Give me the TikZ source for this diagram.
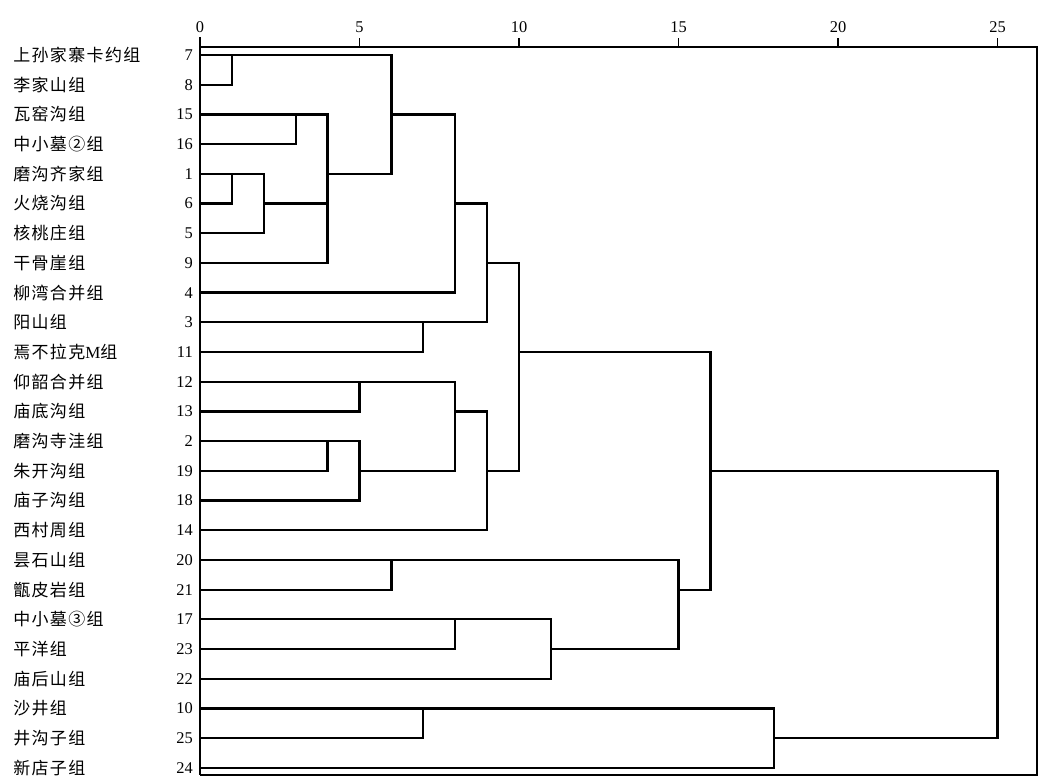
\documentclass[tikz,border=0pt]{standalone}
\usepackage{fontspec}
\setmainfont{Liberation Serif}
\newfontfamily\cjk[LetterSpace=8]{Noto Sans CJK SC}

\begin{document}
\begin{tikzpicture}[
dline/.style={line width=1.9pt, line cap=rect},
frame/.style={line width=1pt},
axis/.style={line width=2.2pt},
num/.style={anchor=east, inner sep=0pt, font=\fontsize{14}{14}\selectfont},
grp/.style={anchor=west, inner sep=0pt, font=\cjk\fontsize{14.5}{15}\selectfont},
ticklabel/.style={anchor=south, inner sep=0pt, yshift=1.4mm, font=\fontsize{14}{14}\selectfont}
]
\useasboundingbox (0,0) rectangle (31.77,-23.28);

\begin{scope}[shift={(6,-1.65)}, x=0.957cm, y=-0.891cm]

% scale on top
\foreach \i in {0,...,25}
  \coordinate (u\i) at (\i,-0.27);
\coordinate (ne) at (26.24,-0.27);
\coordinate (se) at (26.24,24.24);
\coordinate (sw) at (0,24.24);
\draw[frame] (u0) -- (ne) -- (se) -- (sw);
\draw[axis] ([yshift=0.3cm]u0) -- (sw);
\foreach \i in {0,5,...,25}
  \draw[frame] (u\i) -- ++(0,-0.3) node[ticklabel] (l\i) {\i};

% leaves: number / group / first merge
\foreach \n/\name/\len [count=\r from 0] in {
  7/上孙家寨卡约组/6, 8/李家山组/1, 15/瓦窑沟组/4, 16/中小墓②组/3,
  1/磨沟齐家组/2, 6/火烧沟组/1, 5/核桃庄组/2, 9/干骨崖组/4,
  4/柳湾合并组/8, 3/阳山组/9, 11/焉不拉克{\rmfamily M}组/7, 12/仰韶合并组/8,
  13/庙底沟组/5, 2/磨沟寺洼组/5, 19/朱开沟组/4, 18/庙子沟组/5,
  14/西村周组/9, 20/昙石山组/15, 21/甑皮岩组/6, 17/中小墓③组/11,
  23/平洋组/8, 22/庙后山组/11, 10/沙井组/18, 25/井沟子组/7, 24/新店子组/18}
{
  \coordinate (g\n) at (0,\r);
  \node[num] (n\n) at (-0.22,\r) {\n};
  \node[grp] (t\n) at (-5.86,\r) {\name};
  \draw[dline] (g\n) -- (g\n -| u\len);
}

% joins
\foreach \x/\a/\b in {1/7/8, 3/15/16, 1/1/6, 2/1/5, 4/15/9, 6/7/1, 8/15/4,
  7/3/11, 9/6/3, 5/12/13, 4/2/19, 5/2/18, 8/12/19, 9/13/14, 10/9/19,
  6/20/21, 8/17/23, 11/17/22, 15/20/23, 16/11/21, 7/10/25, 18/10/24, 25/19/25}
  \draw[dline] (g\a -| u\x) -- (g\b -| u\x);

% cluster lines
\foreach \r/\a/\b in {6/2/4, 1/4/6, 15/6/8, 6/8/9, 9/9/10, 19/5/8, 13/8/9,
  19/9/10, 11/10/16, 23/11/15, 21/15/16, 19/16/25, 25/18/25}
  \draw[dline] (g\r -| u\a) -- (g\r -| u\b);

\end{scope}
\end{tikzpicture}
\end{document}
